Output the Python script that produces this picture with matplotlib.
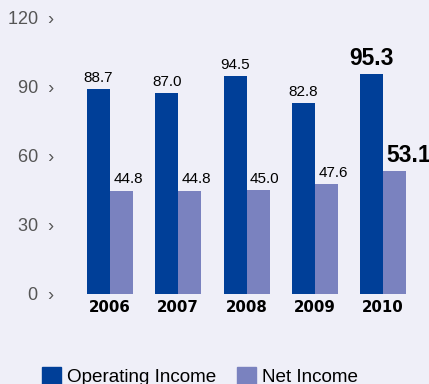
import numpy as np
import matplotlib.pyplot as plt
from matplotlib.patches import Patch

years = ['2006', '2007', '2008', '2009', '2010']
operating_income = [88.7, 87.0, 94.5, 82.8, 95.3]
net_income = [44.8, 44.8, 45.0, 47.6, 53.1]
y_ticks = [0, 30, 60, 90, 120]

bg = '#efeff8'
dark = '#003f98'
light = '#7a82bf'

W, H = 429, 384
fig = plt.figure(figsize=(W / 100, H / 100), dpi=100, facecolor=bg)

# axes placed in pixel terms: x from 60 to 429, zero line at y=294, 120 at y=17
px_left, px_right, px_zero, px_top = 60, 429, 294, 17
ax = fig.add_axes([px_left / W, 1 - px_zero / H,
                   (px_right - px_left) / W, (px_zero - px_top) / H])
ax.set_facecolor(bg)

group = 68.3          # pixels between groups
c0 = 110              # pixel of first group centre
bw = 23 / group
ax.set_xlim((px_left - c0) / group, (px_right - c0) / group)
ax.set_ylim(0, 120)

x = np.arange(len(years))
ax.bar(x - bw / 2, operating_income, bw, color=dark, linewidth=0)
ax.bar(x + bw / 2, net_income, bw, color=light, linewidth=0)

for spine in ax.spines.values():
    spine.set_visible(False)

ax.set_yticks(y_ticks)
ax.set_yticklabels([f'{v}  \u203a' for v in y_ticks], fontfamily='Liberation Sans',
                   fontsize=13, color='#555555')
ax.tick_params(axis='y', length=0, pad=4)
ax.set_xticks(x)
ax.set_xticklabels(years, fontfamily='DejaVu Sans', fontweight='bold', fontsize=10.8)
ax.tick_params(axis='x', length=0, pad=4)

last = len(years) - 1
for i in x:
    big = i == last
    kw = dict(fontfamily='Liberation Sans', va='bottom',
              fontsize=16.5 if big else 11, fontweight='bold' if big else 'normal')
    ax.annotate(f'{operating_income[i]:.1f}', (x[i] - bw / 2, operating_income[i]),
                xytext=(0, 3), textcoords='offset points', ha='center', **kw)
    ax.annotate(f'{net_income[i]:.1f}', (x[i], net_income[i]),
                xytext=(2.5, 3), textcoords='offset points', ha='left', **kw,
                annotation_clip=False)

handles = [Patch(color=dark, label='Operating Income'),
           Patch(color=light, label='Net Income')]
fig.legend(handles=handles, loc='upper left', bbox_to_anchor=(42 / W, 1 - 367 / H),
           ncol=2, frameon=False, borderpad=0, borderaxespad=0,
           handlelength=1.02, handleheight=1.02, handletextpad=0.32,
           columnspacing=1.08, prop={'family': 'Liberation Sans', 'size': 13.6})

fig.savefig('out.png', dpi=100, facecolor=bg)
